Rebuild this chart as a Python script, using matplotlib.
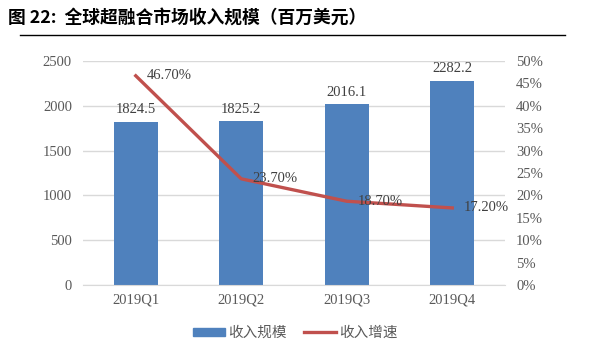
import matplotlib
matplotlib.use("Agg")
import matplotlib.pyplot as plt
from matplotlib.lines import Line2D

categories = ["2019Q1", "2019Q2", "2019Q3", "2019Q4"]
revenue = [1824.5, 1825.2, 2016.1, 2282.2]
growth = [46.70, 23.70, 18.70, 17.20]
left_ticks = [0, 500, 1000, 1500, 2000, 2500]
right_ticks = [0, 5, 10, 15, 20, 25, 30, 35, 40, 45, 50]

serif = ["Liberation Serif", "DejaVu Serif"]
cjk = ["Noto Sans CJK SC", "DejaVu Sans"]
bar_color = "#4F81BD"
line_color = "#C0504D"
text_color = "#595959"

fig = plt.figure(figsize=(5.89, 3.6), dpi=100)
ax = fig.add_axes([83/589, 1-285/360, (505-83)/589, (285-61)/360])
x = list(range(len(categories)))
ax.bar(x, revenue, width=0.42, color=bar_color, zorder=2)
ax.set_xlim(-0.5, len(categories)-0.5)
ax.set_ylim(0, 2500)
ax.set_yticks(left_ticks)
ax.set_yticklabels([str(t) for t in left_ticks], fontfamily=serif, fontsize=10.5, color=text_color)
ax.set_xticks(x)
ax.set_xticklabels(categories, fontfamily=serif, fontsize=10.5, color=text_color)
ax.tick_params(axis="both", length=0, pad=8)
ax.tick_params(axis="x", pad=6)
ax.grid(axis="y", color="#D9D9D9", linewidth=1, zorder=0)
for s in ["top", "right", "left"]:
    ax.spines[s].set_visible(False)
ax.spines["bottom"].set_color("#D9D9D9")
for xi, v in zip(x, revenue):
    ax.annotate(f"{v:.1f}", (xi, v), xytext=(0, 4), textcoords="offset points",
                ha="center", va="bottom", fontfamily=serif, fontsize=10.5, color="#404040")

ax2 = ax.twinx()
ax2.plot(x, growth, color=line_color, linewidth=2.4, zorder=3)
ax2.set_ylim(0, 50)
ax2.set_yticks(right_ticks)
ax2.set_yticklabels([f"{t}%" for t in right_ticks], fontfamily=serif, fontsize=10.5, color=text_color)
ax2.tick_params(axis="y", length=0, pad=8)
for s in ["top", "right", "left", "bottom"]:
    ax2.spines[s].set_visible(False)
for xi, g in zip(x, growth):
    ax2.annotate(f"{g:.2f}%", (xi, g), xytext=(8, 0), textcoords="offset points",
                 ha="left", va="center", fontfamily=serif, fontsize=10.5, color="#404040")

# Title and rule
fig.text(8/589, 1-18/360, "图 22:  全球超融合市场收入规模（百万美元）", fontfamily=cjk,
         fontsize=12.8, fontweight="bold", color="black", va="center", ha="left")
fig.add_artist(Line2D([20/589, 565/589], [1-35/360, 1-35/360], color="black", linewidth=1))

handles = [plt.Rectangle((0, 0), 1, 1, color=bar_color),
           Line2D([0], [0], color=line_color, linewidth=2.4)]
fig.legend(handles, ["收入规模", "收入增速"], loc="center", bbox_to_anchor=(295/589, 1-333/360),
           ncol=2, frameon=False, prop={"family": cjk, "size": 10.5},
           handlelength=2.2, handleheight=0.5, columnspacing=1.2, handletextpad=0.2,
           labelcolor=text_color)

fig.savefig("out.png", dpi=100)
